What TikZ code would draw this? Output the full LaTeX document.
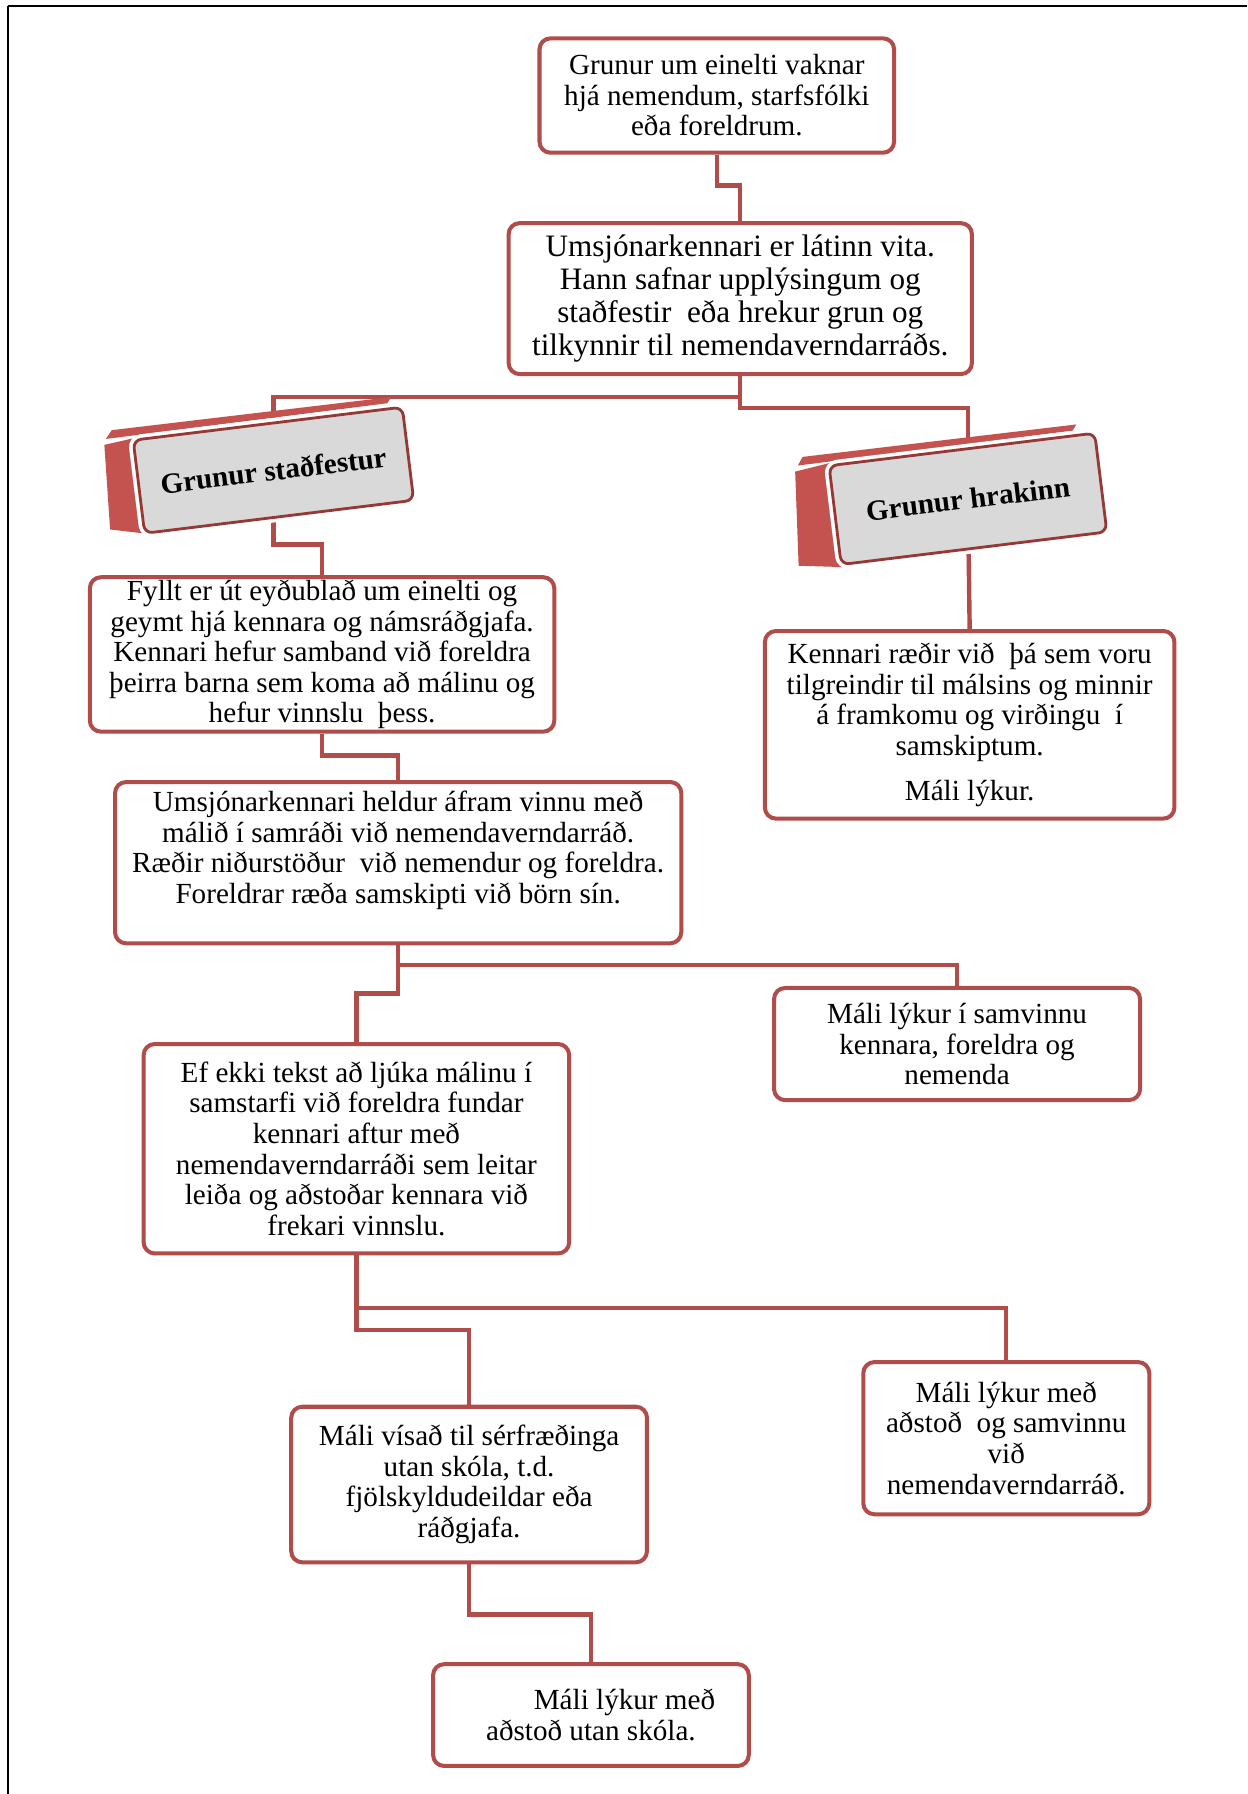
\documentclass[tikz,border=0pt]{standalone}
\usepackage{fontspec}
\setmainfont{Liberation Serif}
\usepackage{tikz}
\usetikzlibrary{positioning,backgrounds}
\definecolor{boxred}{RGB}{176,76,73}
\definecolor{edgered}{RGB}{150,56,53}
\definecolor{sidered}{RGB}{196,82,79}
\definecolor{facegrey}{RGB}{217,217,217}

\begin{document}
\begin{tikzpicture}[
  x=0.02cm, y=-0.02cm,
  stage/.style={rectangle, rounded corners=5.5pt, draw=boxred, line width=2pt, fill=white, align=center, inner sep=0pt, font=\fontsize{14.5}{15.2}\selectfont},
  banner/.style={rectangle, rounded corners=4pt, draw=edgered, line width=1.4pt, fill=facegrey, inner sep=0pt, font=\fontsize{14.5}{16}\selectfont\bfseries, preaction={draw=white, line width=5pt}},
  link/.style={draw=boxred, line width=2.2pt}
]
\useasboundingbox (0,0) rectangle (1090,1568);

% Frame
\draw[line width=1.2pt] (7,5) -- (1090,5);
\draw[line width=0.8pt] (7,5) -- (7,1568);

% Steps
\node (start) [stage, minimum width=6.2cm, minimum height=2cm] at (626.5,83.5) {Grunur um einelti vaknar\\hjá nemendum, starfsfólki\\eða foreldrum.};
\node (report) [stage, minimum width=8.1cm, minimum height=2.64cm, font=\fontsize{15.5}{16.4}\selectfont] at (647,261) {Umsjónarkennari er látinn vita.\\Hann safnar upplýsingum og\\staðfestir~ eða hrekur grun og\\tilkynnir til nemendaverndarráðs.};

% Banners
\node (yes) [banner, rotate=7, minimum width=4.74cm, minimum height=1.64cm] at (239,411) {Grunur staðfestur};
\node (no) [banner, rotate=7, minimum width=4.68cm, minimum height=1.74cm] at (846,436) {Grunur hrakinn};

\node (confirm) [stage, minimum width=8.12cm, minimum height=2.7cm] at (281.5,572) {Fyllt er út eyðublað um einelti og\\geymt hjá kennara og námsráðgjafa.\\Kennari hefur samband við foreldra\\þeirra barna sem koma að málinu og\\hefur vinnslu~ þess.};
\node (talk) [stage, minimum width=7.16cm, minimum height=3.28cm] at (847.5,633.5) {Kennari ræðir við~ þá sem voru\\tilgreindir til málsins og minnir\\á framkomu og virðingu~ í\\samskiptum.\\[7pt]Máli lýkur.};
\node (followup) [stage, minimum width=9.9cm, minimum height=2.82cm] at (348,754) {Umsjónarkennari heldur áfram vinnu með\\málið í samráði við nemendaverndarráð.\\Ræðir niðurstöður~ við nemendur og foreldra.\\Foreldrar ræða samskipti við börn sín.\\~};
\node (doneteam) [stage, minimum width=6.4cm, minimum height=1.96cm] at (836.5,912.5) {Máli lýkur í samvinnu\\kennara, foreldra og\\nemenda};
\node (council) [stage, minimum width=7.44cm, minimum height=3.66cm] at (311.5,1004) {Ef ekki tekst að ljúka málinu í\\samstarfi við foreldra fundar\\kennari aftur með\\nemendaverndarráði sem leitar\\leiða og aðstoðar kennara við\\frekari vinnslu.};
\node (donecouncil) [stage, minimum width=5cm, minimum height=2.66cm] at (879.5,1257) {Máli lýkur með\\aðstoð~ og samvinnu\\við\\nemendaverndarráð.};
\node (referral) [stage, minimum width=6.22cm, minimum height=2.72cm] at (410,1297.5) {Máli vísað til sérfræðinga\\utan skóla, t.d.\\fjölskyldudeildar eða\\ráðgjafa.};
\node (doneout) [stage, minimum width=5.52cm, minimum height=1.78cm] at (516.5,1499) {\hspace*{2.3em}Máli lýkur með\\aðstoð utan skóla.};

% Connections
\begin{scope}[on background layer]
\draw [link] (start.south) -- ++(0,27) -| (report.north);
\draw [link] (report.south) -- ++(0,18) -| (yes.center);
\draw [link] (report.south) -- ++(0,28) -| (no.center);
\draw [link] (yes.center) -- ++(0,65) -| (confirm.north);
\draw [link] (no.center) -- (talk.north);
\draw [link] (confirm.south) -- ++(0,19) -| (followup.north);
\draw [link] (followup.south) -- ++(0,17) -| (doneteam.north);
\draw [link] (followup.south) -- ++(0,42) -| (council.north);
\draw [link] (council.south) -- ++(0,46) -| (donecouncil.north);
\draw [link] (council.south) -- ++(0,65) -| (referral.north);
\draw [link] (referral.south) -- ++(0,44) -| (doneout.north);

% Sides of the banners
\begin{scope}[shift={(yes.center)}, rotate=7]
  \fill[sidered] (-148,34) -- (-144,-40) -- (-115,-43) -- (-115,42) -- cycle;
  \fill[sidered] (-142,-45) -- (-136,-52) -- (110,-51) -- (106,-46) -- cycle;
\end{scope}
\begin{scope}[shift={(no.center)}, rotate=7]
  \fill[sidered] (-154,40) -- (-147,-42) -- (-115,-46) -- (-115,46) -- cycle;
  \fill[sidered] (-144,-47) -- (-139,-54) -- (102,-53) -- (98,-48) -- cycle;
\end{scope}
\end{scope}

\end{tikzpicture}
\end{document}
